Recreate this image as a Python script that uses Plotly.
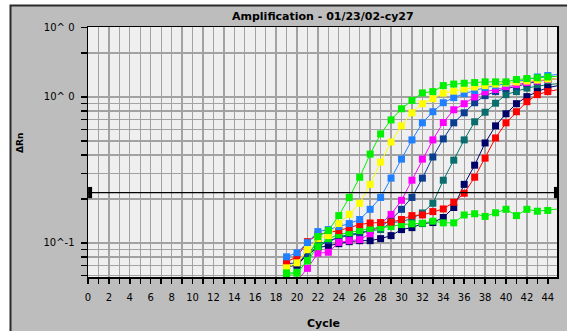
import plotly.graph_objects as go

# ---------------- data ----------------
cycles = list(range(19, 46))

green_1 = [0.0624, 0.0624, 0.0755, 0.1105, 0.1216, 0.154, 0.205, 0.282, 0.406, 0.558, 0.696, 0.830, 0.947,
           1.066, 1.088, 1.196, 1.225, 1.241, 1.255, 1.269, 1.269, 1.269, 1.316, 1.337, 1.352, 1.370, 1.387]
yellow = [0.0676, 0.0731, 0.0899, 0.1071, 0.1123, 0.1358, 0.157, 0.187, 0.252, 0.358, 0.491, 0.634, 0.779,
          0.899, 0.973, 1.062, 1.096, 1.132, 1.169, 1.196, 1.225, 1.245, 1.265, 1.285, 1.306, 1.327, 1.337]
blue = [0.0804, 0.0857, 0.1005, 0.1197, 0.1235, 0.1295, 0.1358, 0.1448, 0.170, 0.205, 0.278, 0.375, 0.508,
        0.665, 0.792, 0.913, 0.989, 1.054, 1.105, 1.159, 1.196, 1.235, 1.275, 1.316, 1.370, 1.402, 1.425]
magenta = [0.0532, 0.0550, 0.0670, 0.0851, 0.0864, 0.1009, 0.1037, 0.1054, 0.1159, 0.1358, 0.157, 0.196, 0.269,
           0.375, 0.508, 0.668, 0.817, 0.899, 1.000, 1.083, 1.123, 1.178, 1.216, 1.255, 1.285, 1.316, 1.337]
royal = [0.0720, 0.0731, 0.0831, 0.0943, 0.1037, 0.1088, 0.1123, 0.1159, 0.1216, 0.1295, 0.1448, 0.170, 0.205,
         0.278, 0.388, 0.516, 0.665, 0.779, 0.913, 1.021, 1.088, 1.141, 1.178, 1.235, 1.275, 1.316, 1.337]
teal = [0.0697, 0.0697, 0.0844, 0.1005, 0.1009, 0.1105, 0.1141, 0.1178, 0.1216, 0.1235, 0.138, 0.1402, 0.147,
        0.1605, 0.187, 0.269, 0.369, 0.508, 0.676, 0.786, 0.906, 1.037, 1.088, 1.150, 1.187, 1.216, 1.235]
navy = [0.0686, 0.0708, 0.0831, 0.0928, 0.0958, 0.0989, 0.1021, 0.1037, 0.1037, 0.1071, 0.1123, 0.1235, 0.1274,
        0.1358, 0.138, 0.1494, 0.175, 0.252, 0.341, 0.484, 0.634, 0.767, 0.899, 1.005, 1.088, 1.159, 1.196]
red = [0.0743, 0.0804, 0.1021, 0.1141, 0.1178, 0.1216, 0.1274, 0.1337, 0.137, 0.138, 0.139, 0.1448, 0.154,
       0.1555, 0.164, 0.171, 0.190, 0.219, 0.282, 0.381, 0.524, 0.665, 0.792, 0.928, 1.037, 1.088, 1.123]
green_2 = [0.0605, 0.0624, 0.0755, 0.0943, 0.1071, 0.1141, 0.1178, 0.1216, 0.1255, 0.1274, 0.1295, 0.1337, 0.1352,
           0.1365, 0.141, 0.1374, 0.1374, 0.1555, 0.1585, 0.152, 0.161, 0.170, 0.154, 0.170, 0.165, 0.167, 0.171]

threshold = 0.2215

x_ticks = list(range(0, 45))
x_labels = [str(v) if v % 2 == 0 else "" for v in x_ticks]
y_ticks = [0.06, 0.07, 0.08, 0.09, 0.1, 0.2, 0.3, 0.4, 0.5, 0.6, 0.7, 0.8, 0.9, 1, 2, 3]
y_labels = ["", "", "", "", "10^-1", "", "", "", "", "", "", "", "", "10^ 0", "", "10^ 0"]

title_text = "Amplification - 01/23/02-cy27"
x_title = "Cycle"
y_title = "ΔRn"

# ---------------- figure ----------------
W, H = 567, 331
ML, MR, MT, MB = 88, 10, 27, 54
PW, PH = W - ML - MR, H - MT - MB

series = [
    (teal, "#0a6e6e"),
    (navy, "#000066"),
    (royal, "#0b3d91"),
    (magenta, "#ff00ff"),
    (green_2, "#00ee00"),
    (red, "#ff0000"),
    (blue, "#2080ff"),
    (yellow, "#ffff00"),
    (green_1, "#00f000"),
]

fig = go.Figure()
for vals, col in series:
    fig.add_trace(go.Scatter(
        x=cycles, y=vals, mode="lines+markers",
        line=dict(color=col, width=1),
        marker=dict(symbol="square", size=7, color=col, line=dict(width=0)),
        showlegend=False, hoverinfo="skip"))

x_max = 44.88
fig.add_trace(go.Scatter(
    x=[0, x_max], y=[threshold, threshold], mode="lines",
    line=dict(color="black", width=1.2), showlegend=False, hoverinfo="skip"))
fig.add_trace(go.Scatter(
    x=[0.2, x_max - 0.1], y=[threshold, threshold], mode="markers",
    marker=dict(symbol="line-ns-open", size=8, color="black", line=dict(color="black", width=4)),
    cliponaxis=False, showlegend=False, hoverinfo="skip"))

def px_x(p):
    return (p - ML) / PW

def px_y(p):
    return (H - MB - p) / PH

fig.add_shape(type="rect", xref="paper", yref="paper",
              x0=px_x(10.5), x1=px_x(580), y0=px_y(5.5), y1=px_y(345),
              fillcolor="#bdbdbd", line=dict(color="#2a2a2a", width=2), layer="below")
fig.add_shape(type="rect", xref="paper", yref="paper",
              x0=0, x1=1, y0=0, y1=1,
              fillcolor="#efefef", line=dict(width=0), layer="below")

tick_font = dict(family="DejaVu Sans", size=10, color="black")
fig.update_xaxes(range=[0, x_max], tickmode="array", tickvals=x_ticks, ticktext=x_labels,
                 showgrid=True, gridcolor="#a2a2a2", gridwidth=1.3,
                 showline=True, linecolor="black", linewidth=1.5, mirror=True,
                 ticks="outside", ticklen=5, tickwidth=1.5, tickcolor="black",
                 tickfont=tick_font, ticklabelstandoff=5, zeroline=False, automargin=False)
fig.update_yaxes(type="log", range=[-1.233, 0.479], tickmode="array", tickvals=y_ticks, ticktext=y_labels,
                 showgrid=True, gridcolor="#a2a2a2", gridwidth=1.3,
                 showline=True, linecolor="black", linewidth=1.5, mirror=True,
                 ticks="outside", ticklen=6, tickwidth=1.5, tickcolor="black",
                 tickfont=tick_font, ticklabelstandoff=4, zeroline=False, automargin=False)

bold = dict(family="DejaVu Sans", size=11, color="black", weight="bold")
fig.add_annotation(text=title_text, xref="paper", yref="paper", x=px_x(323), y=px_y(17),
                   showarrow=False, font=bold, xanchor="center", yanchor="middle")
fig.add_annotation(text=x_title, xref="paper", yref="paper", x=px_x(323), y=px_y(323),
                   showarrow=False, font=bold, xanchor="center", yanchor="middle")
fig.add_annotation(text=y_title, xref="paper", yref="paper", x=px_x(20), y=px_y(143),
                   showarrow=False, font=dict(family="DejaVu Sans", size=9, color="black", weight="bold"),
                   textangle=-90, xanchor="center", yanchor="middle")

fig.update_layout(width=W, height=H, margin=dict(l=ML, r=MR, t=MT, b=MB, autoexpand=False),
                  paper_bgcolor="white", plot_bgcolor="#efefef")

fig.write_html("out.html", config={"displayModeBar": False, "staticPlot": True},
               post_script="document.body.style.margin='0';document.body.style.overflow='hidden';")
